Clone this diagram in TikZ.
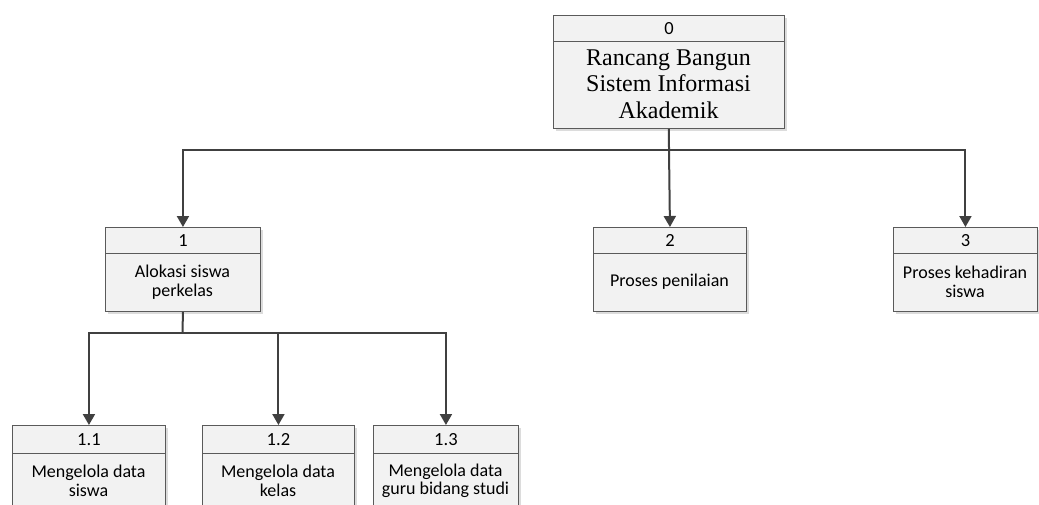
\documentclass[tikz,border=0pt]{standalone}
\usepackage{fontspec}
\setmainfont{Carlito}
\newfontfamily\titlefont{Liberation Serif}
\usetikzlibrary{arrows.meta}
\definecolor{boxfill}{HTML}{F2F2F2}
\definecolor{boxline}{HTML}{5A5A5A}
\definecolor{shadowc}{HTML}{DCDCDC}
\definecolor{connc}{HTML}{404040}
\tikzset{
  procbox/.style={draw=boxline, line width=0.9pt, fill=boxfill, anchor=north west, inner sep=0pt},
  prochead/.style={draw=boxline, line width=0.9pt, fill=boxfill, anchor=north west, inner sep=0pt, font=\fontsize{18.5}{20}\selectfont},
  proctext/.style={align=center, inner sep=0pt, font=\fontsize{18}{18.5}\selectfont},
  bigtext/.style={align=center, inner sep=0pt, font=\titlefont\fontsize{24}{26.5}\selectfont},
  boxshadow/.style={fill=shadowc},
  conn/.style={draw=connc, line width=2pt},
  arr/.style={conn, -{Triangle[length=11pt,width=12pt]}},
}
% \procbox{name}{x}{y}{width}{height}{header height}{number}
\newcommand{\procbox}[7]{%
  \fill[boxshadow] (#2+3,#3+3) rectangle (#2+#4+3,#3+#5+3);
  \node[procbox, minimum width=#4pt, minimum height=#5pt] (#1) at (#2,#3) {};
  \node[prochead, minimum width=#4pt, minimum height=#6pt] (#1h) at (#2,#3) {#7};
}
\begin{document}
\begin{tikzpicture}[x=1pt,y=-1pt]
\clip (0,0) rectangle (1039,504);
\fill[white] (0,0) rectangle (1039,504);

% top-level process
\procbox{p0}{553}{15}{231}{113}{26}{0}
\node[bigtext] at (668.5,84) {Rancang Bangun\\Sistem Informasi\\Akademik};

% first-level processes
\procbox{p1}{105}{227}{155}{84}{26}{1}
\node[proctext] at (182.5,282) {Alokasi siswa\\perkelas};
\procbox{p2}{593}{227}{153}{84}{26}{2}
\node[proctext] at (669.5,282) {Proses penilaian};
\procbox{p3}{893}{227}{144}{84}{26}{3}
\node[proctext] at (965,282) {Proses kehadiran\\siswa};

% second-level processes
\procbox{p11}{12}{425}{153}{84}{28}{1.1}
\node[proctext] at (88.5,481) {Mengelola data\\siswa};
\procbox{p12}{202}{425}{152}{84}{28}{1.2}
\node[proctext] at (278,481) {Mengelola data\\kelas};
\procbox{p13}{373}{425}{145}{84}{28}{1.3}
\node[proctext] at (445.5,481) {Mengelola data\\guru bidang studi};

% connectors
\coordinate (j0) at (669,150);
\coordinate (j1) at (182.5,333);
\draw[conn] (p0.south) -- (j0);
\draw[arr] (j0) -| (p1.north);
\draw[arr] (j0) -- (p2.north);
\draw[arr] (j0) -| (p3.north);
\draw[conn] (p1.south) -- (j1);
\draw[arr] (j1) -| (p11.north);
\draw[arr] (j1) -| (p12.north);
\draw[arr] (j1) -| (p13.north);
\end{tikzpicture}
\end{document}
